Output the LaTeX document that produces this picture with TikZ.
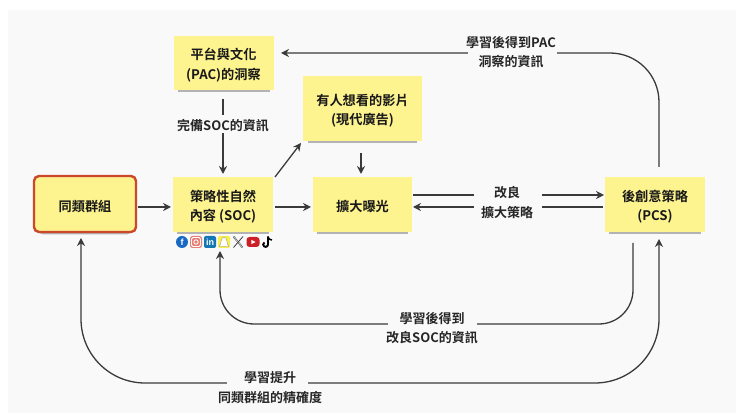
\documentclass[tikz,border=0pt]{standalone}
\usepackage{fontspec}
\setmainfont{Noto Sans CJK TC}[BoldFont={* Bold}]
\newfontfamily\lat{Liberation Sans}
\usetikzlibrary{arrows.meta,shadows}
\definecolor{note}{HTML}{FDF38F}
\definecolor{ln}{HTML}{3A3A3A}
\definecolor{bg}{HTML}{F9F9F9}
\newcommand\nt[1]{\raisebox{-2pt}[\height][\depth]{#1}}
\tikzset{
  note/.style={fill=note,minimum width=#1,align=center,font=\fontsize{13.2}{19.5}\selectfont\bfseries,text=black!90,inner sep=0pt,
     general shadow={shadow xshift=0pt,shadow yshift=-5pt,shadow scale=.92,opacity=.28,fill=black}},
  arr/.style={draw=ln,line width=1.3pt,-{Stealth[length=8pt,width=8pt]}},
  lab/.style={inner sep=0pt,align=center,font=\fontsize{13}{19.5}\selectfont\bfseries,text=black!85},
  ico/.style={inner sep=0pt,minimum size=12pt,text=white,font=\lat\fontsize{9}{9}\selectfont\bfseries}
}
\begin{document}
\begin{tikzpicture}[x=1pt,y=-1pt]
\useasboundingbox (0,0) rectangle (740,419);
\fill[white] (0,0) rectangle (740,419);
\fill[bg] (8,10) rectangle (736,413);
\node[note=100pt,minimum height=54pt] (pac) at (223.5,63) {\nt{平台與文化}\\\nt{(PAC)的洞察}};
\node[note=119pt,minimum height=65pt] (want) at (362.5,108.5) {\nt{有人想看的影片}\\\nt{(現代廣告)}};
\node[note=100pt,minimum height=55pt] (soc) at (223,204.5) {\nt{策略性自然}\\\nt{內容 (SOC)}};
\node[note=99pt,minimum height=55pt] (exp) at (362.5,204.5) {\nt{擴大曝光}};
\node[note=100pt,minimum height=55pt] (pcs) at (655,204.5) {\nt{後創意策略}\\\nt{(PCS)}};
\node[note=102pt,minimum height=56pt,draw={rgb,255:red,204;green,72;blue,44},line width=2.4pt,rounded corners=5pt] (same) at (85,204) {\nt{同類群組}};
\coordinate (c1a) at (138,207); \coordinate (c1b) at (171,207);
\coordinate (c2a) at (275,207); \coordinate (c2b) at (311,207);
\draw[arr] (c1a) -- (c1b);
\draw[arr] (c2a) -- (c2b);
\coordinate (c3a) at (275,177); \coordinate (c3b) at (301,143);
\draw[arr] (c3a) -- (c3b);
\coordinate (c4a) at (361,153); \coordinate (c4b) at (361,174);
\draw[arr] (c4a) -- (c4b);
\coordinate (c5a) at (223,99); \coordinate (c5b) at (223,174);
\draw[arr] (c5a) -- (c5b);
\coordinate (c6a) at (413,195); \coordinate (c6b) at (604,195);
\draw[arr] (c6a) -- (c6b);
\coordinate (c7a) at (603,207); \coordinate (c7b) at (413,207);
\draw[arr] (c7a) -- (c7b);
\coordinate (c8a) at (659,167); \coordinate (c8b) at (281,53);
\draw[arr,rounded corners=49pt] (c8a) -- (659,53) -- (c8b);
\coordinate (c9a) at (633,243); \coordinate (c9b) at (220,251);
\draw[arr,rounded corners=34pt] (c9a) -- (633,324) -- (220,324) -- (c9b);
\coordinate (c10a) at (659,239); \coordinate (c10b) at (81,238);
\draw[arr,rounded corners=64pt,{Stealth[length=8pt,width=8pt]}-{Stealth[length=8pt,width=8pt]}] (c10a) -- (659,383) -- (81,383) -- (c10b);
% gaps in the lines behind the labels
\fill[bg] (216,115) rectangle (230,133);
\fill[bg] (468,50) rectangle (557,56);
\fill[bg] (474,192) rectangle (542,210);
\fill[bg] (388,320) rectangle (477,327);
\fill[bg] (227,380) rectangle (308,386);
\node[lab] (l1) at (223,125.5) {完備SOC的資訊};
\node[lab] (l2) at (511,52) {學習後得到PAC\\洞察的資訊};
\node[lab] (l3) at (507,202.5) {改良\\擴大策略};
\node[lab] (l4) at (432,328) {學習後得到\\改良SOC的資訊};
\node[lab] (l5) at (270,387.5) {學習提升\\同類群組的精確度};
% social icons
\node[ico,circle,fill={rgb,255:red,24;green,104;blue,196}] (i1) at (182,242) {f};
\node[ico,rectangle,rounded corners=2.5pt,fill={rgb,255:red,232;green,128;blue,120}] (i2) at (196,242) {};
\draw[white,line width=.8pt,rounded corners=1.5pt] (191.5,237.5) rectangle (200.5,246.5);
\draw[white,line width=.8pt] (196,242) circle (2.2pt);
\node[ico,rectangle,rounded corners=2pt,fill={rgb,255:red,20;green,118;blue,178}] (i3) at (210,242) {in};
\node[ico,rectangle,rounded corners=2pt,fill={rgb,255:red,248;green,240;blue,70}] (i4) at (224,242) {};
\fill[white,draw=black!45,line width=.3pt] (219,246.5) .. controls (221.5,245) and (220.5,237) .. (224,237) .. controls (227.5,237) and (226.5,245) .. (229,246.5) -- cycle;
% X logo
\draw[black!75,line width=1.6pt] (233.5,236.5) -- (242.5,247.5);
\draw[bg,line width=.5pt] (233.5,236.5) -- (242.5,247.5);
\draw[black!75,line width=.8pt] (243,236.5) -- (233.5,247.5);
\node[ico,rectangle,rounded corners=3pt,minimum width=13pt,minimum height=10pt,fill={rgb,255:red,205;green,32;blue,38}] (i6) at (253,242) {};
\fill[white] (251.3,239.8) -- (255.5,242) -- (251.3,244.2) -- cycle;
% TikTok logo
\draw[black,line width=1.9pt] (268,236.5) -- (268,244.5) arc[start angle=0,end angle=-240,radius=2.4pt];
\draw[black,line width=1.5pt] (268,237) .. controls (268.5,239) and (270,240) .. (272,240);
\end{tikzpicture}
\end{document}
